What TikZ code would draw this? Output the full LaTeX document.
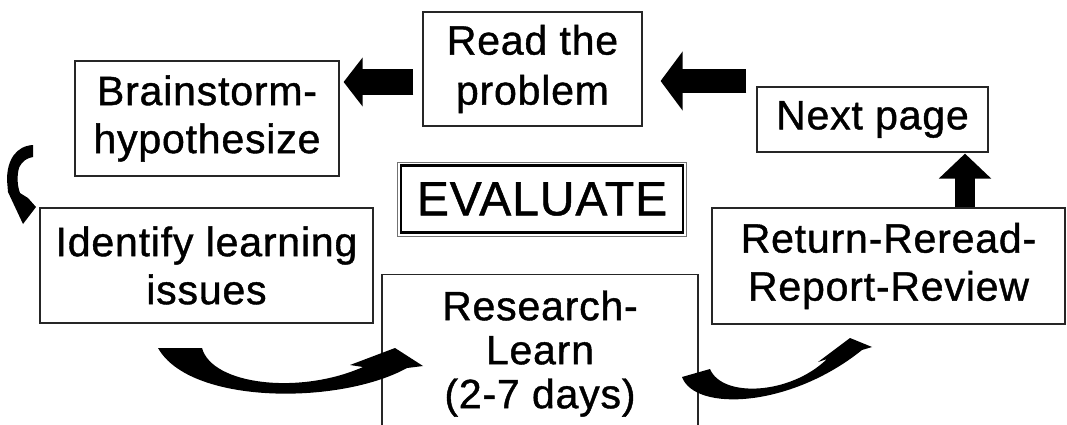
\documentclass[tikz,border=0pt]{standalone}
\usepackage{fontspec}
\setmainfont{Liberation Sans}[LetterSpace=2,FakeBold=1]
\usetikzlibrary{arrows.meta,calc}

\begin{document}
\begin{tikzpicture}[x=1pt,y=-1pt,
	box/.style={draw=black!85,line width=1.2pt,align=center,inner sep=0pt,
		font=\fontsize{41}{48}\selectfont},
	fatarrow/.style n args={3}{line width=#1,-{Triangle[length=#2,width=#3]}}]
	\useasboundingbox (0,0) rectangle (1067,425);
	\clip (0,0) rectangle (1067,425);
	
	%Drawing the boxes
	\node[box,minimum width=219pt,minimum height=114pt,font=\fontsize{41}{50}\selectfont] (read) at (532.5,69) {Read the\\problem};
	\node[box,minimum width=264pt,minimum height=115pt] (brain) at (207,118.5) {Brainstorm-\\hypothesize};
	\node[box,minimum width=231pt,minimum height=65pt] (next) at (872.5,119.5) {Next page};
	\node[box,draw=black,line width=2.2pt,minimum width=282pt,minimum height=67pt,font=\fontsize{48}{56}\selectfont] (eval) at (542,199) {EVALUATE};
	\draw[line width=0.8pt,black!55] ($(eval.north west)+(-2.5,-2.5)$) rectangle ($(eval.south east)+(2.5,2.5)$);
	\node[box,minimum width=333pt,minimum height=115pt] (ident) at (206.5,265.5) {Identify learning\\issues};
	\node[box,anchor=north,minimum width=316pt,minimum height=158pt,font=\fontsize{41}{44}\selectfont] (research) at (540,274) {Research-\\Learn\\(2-7 days)};
	\node[box,minimum width=353pt,minimum height=116pt] (ret) at (888.5,266) {Return-Reread-\\Report-Review};
	
	%Straight arrows
	\draw[fatarrow={26pt}{19pt}{48pt}] ([shift={(-9,13)}]read.west) coordinate (a1) -- ($(brain.east |- a1)+(4,0)$);
	\draw[fatarrow={24pt}{22pt}{58pt}] ([shift={(-10,-38.5)}]next.west) coordinate (a2) -- ($(read.east |- a2)+(18,0)$);
	\draw[fatarrow={20pt}{25pt}{51pt}] ([xshift=76.5pt]ret.north) -- ($(next.south)+(92.5,1)$);
	
	%Curved arrows
	\fill (33,145) .. controls (16,146) and (7,160) .. (7,180) -- (8,192) -- (23,224) -- (36,207) -- (28,198) -- (20,193) .. controls (17,185) and (17,175) .. (19,168) .. controls (22,161) and (27,158) .. (33,157) -- cycle;
	\fill (158,348) -- (202,348) .. controls (212,385) and (300,395) .. (363,367) -- (350,365) -- (395,348) -- (423,366) -- (407,368) .. controls (340,405) and (190,405) .. (158,348) -- cycle;
	\fill (682,377) .. controls (695,412) and (790,408) .. (862,350) -- (872,347) -- (850,338) -- (818,362) -- (827,359) .. controls (790,395) and (722,398) .. (710,369) -- cycle;
	
\end{tikzpicture}
\end{document}
